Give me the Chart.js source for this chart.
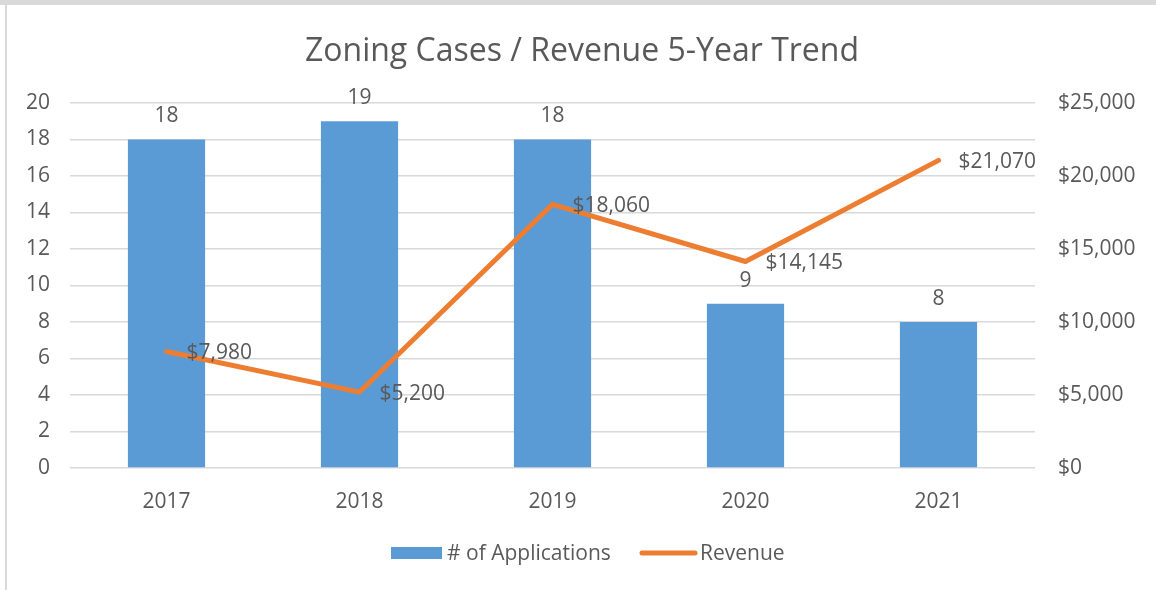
<!DOCTYPE html>
<html>
<head>
<meta charset="utf-8">
<script src="https://cdn.jsdelivr.net/npm/chart.js@4/dist/chart.umd.min.js"></script>
<style>
  html, body { margin: 0; padding: 0; background: #ffffff; }
  #wrap { position: relative; width: 1156px; height: 590px; }
  canvas { display: block; }
</style>
</head>
<body>
<div id="wrap"><canvas id="c" width="1156" height="590"></canvas></div>
<script>
const title = "Zoning Cases / Revenue 5-Year Trend";
const categories = ["2017", "2018", "2019", "2020", "2021"];
const applications = [18, 19, 18, 9, 8];
const revenue = [7980, 5200, 18060, 14145, 21070];
const seriesNames = ["# of Applications", "Revenue"];
const leftTicks = [0, 2, 4, 6, 8, 10, 12, 14, 16, 18, 20];
const rightTicks = [0, 5000, 10000, 15000, 20000, 25000];

const TEXT = "#595959";
const FONT = "'Open Sans', 'Noto Sans', sans-serif";
const BLUE = "#5B9BD5";
const ORANGE = "#ED7D31";
const FS = 21;

function money(v) { return "$" + v.toLocaleString("en-US"); }

const overlay = {
  id: "overlay",
  beforeDraw(chart) {
    const ctx = chart.ctx;
    ctx.save();
    ctx.fillStyle = "#ffffff";
    ctx.fillRect(0, 0, chart.width, chart.height);
    ctx.fillStyle = "#d9d9d9";
    ctx.fillRect(0, 0, chart.width, 5);
    ctx.fillRect(5, 0, 2, chart.height);
    ctx.restore();
  },
  afterDraw(chart) {
    const ctx = chart.ctx;
    ctx.save();
    // title
    ctx.fillStyle = TEXT;
    ctx.font = "32px " + FONT;
    ctx.textAlign = "center";
    ctx.textBaseline = "middle";
    ctx.fillText(title, 582, 52);

    ctx.font = FS + "px " + FONT;
    // bar labels
    const barMeta = chart.getDatasetMeta(0);
    barMeta.data.forEach((el, i) => {
      ctx.textAlign = "center";
      ctx.textBaseline = "middle";
      ctx.fillText(String(chart.data.datasets[0].data[i]), el.x, el.y - 23);
    });
    // line labels
    const lineMeta = chart.getDatasetMeta(1);
    lineMeta.data.forEach((el, i) => {
      ctx.textAlign = "left";
      ctx.textBaseline = "middle";
      ctx.fillText(money(chart.data.datasets[1].data[i]), el.x + 20, el.y + 2);
    });

    // legend
    const ds = chart.data.datasets;
    ctx.textAlign = "left";
    ctx.textBaseline = "middle";
    const ly = 553;
    ctx.fillStyle = ds[0].backgroundColor;
    ctx.fillRect(391, ly - 6, 51, 12);
    ctx.fillStyle = TEXT;
    ctx.fillText(ds[0].label, 447, ly + 1);
    ctx.strokeStyle = ds[1].borderColor;
    ctx.lineWidth = 5;
    ctx.lineCap = "round";
    ctx.beginPath();
    ctx.moveTo(642, ly);
    ctx.lineTo(695, ly);
    ctx.stroke();
    ctx.fillStyle = TEXT;
    ctx.fillText(ds[1].label, 700, ly + 1);
    ctx.restore();
  }
};

new Chart(document.getElementById("c"), {
  data: {
    labels: categories,
    datasets: [
      {
        type: "bar",
        label: seriesNames[0],
        data: applications,
        yAxisID: "yL",
        backgroundColor: BLUE,
        borderWidth: 0,
        categoryPercentage: 1.0,
        barPercentage: 0.4,
        order: 1
      },
      {
        type: "line",
        label: seriesNames[1],
        data: revenue,
        yAxisID: "yR",
        borderColor: ORANGE,
        backgroundColor: ORANGE,
        borderWidth: 5,
        pointRadius: 0,
        tension: 0,
        borderCapStyle: "round",
        borderJoinStyle: "round",
        order: 0
      }
    ]
  },
  options: {
    responsive: false,
    animation: false,
    devicePixelRatio: 1,
    layout: { padding: { top: 103, bottom: 0, left: 0, right: 0 } },
    plugins: { legend: { display: false }, title: { display: false }, tooltip: { enabled: false } },
    scales: {
      x: {
        offset: true,
        grid: { display: false },
        border: { display: false },
        ticks: { color: TEXT, font: { family: FONT, size: FS }, padding: 13 },
        afterFit(s) { s.height = 122; }
      },
      yL: {
        position: "left",
        min: 0, max: 20,
        afterBuildTicks(s) { s.ticks = leftTicks.map(v => ({ value: v })); },
        grid: { color: "#d9d9d9", lineWidth: 1.5, drawTicks: false },
        border: { display: false },
        ticks: { color: TEXT, font: { family: FONT, size: FS }, padding: 20 },
        afterFit(s) { s.width = 70; }
      },
      yR: {
        position: "right",
        min: 0, max: 25000,
        afterBuildTicks(s) { s.ticks = rightTicks.map(v => ({ value: v })); },
        grid: { display: false, drawTicks: false },
        border: { display: false },
        ticks: { color: TEXT, font: { family: FONT, size: FS }, padding: 23, callback: v => money(v) },
        afterFit(s) { s.width = 121; }
      }
    }
  },
  plugins: [overlay]
});
</script>
</body>
</html>
